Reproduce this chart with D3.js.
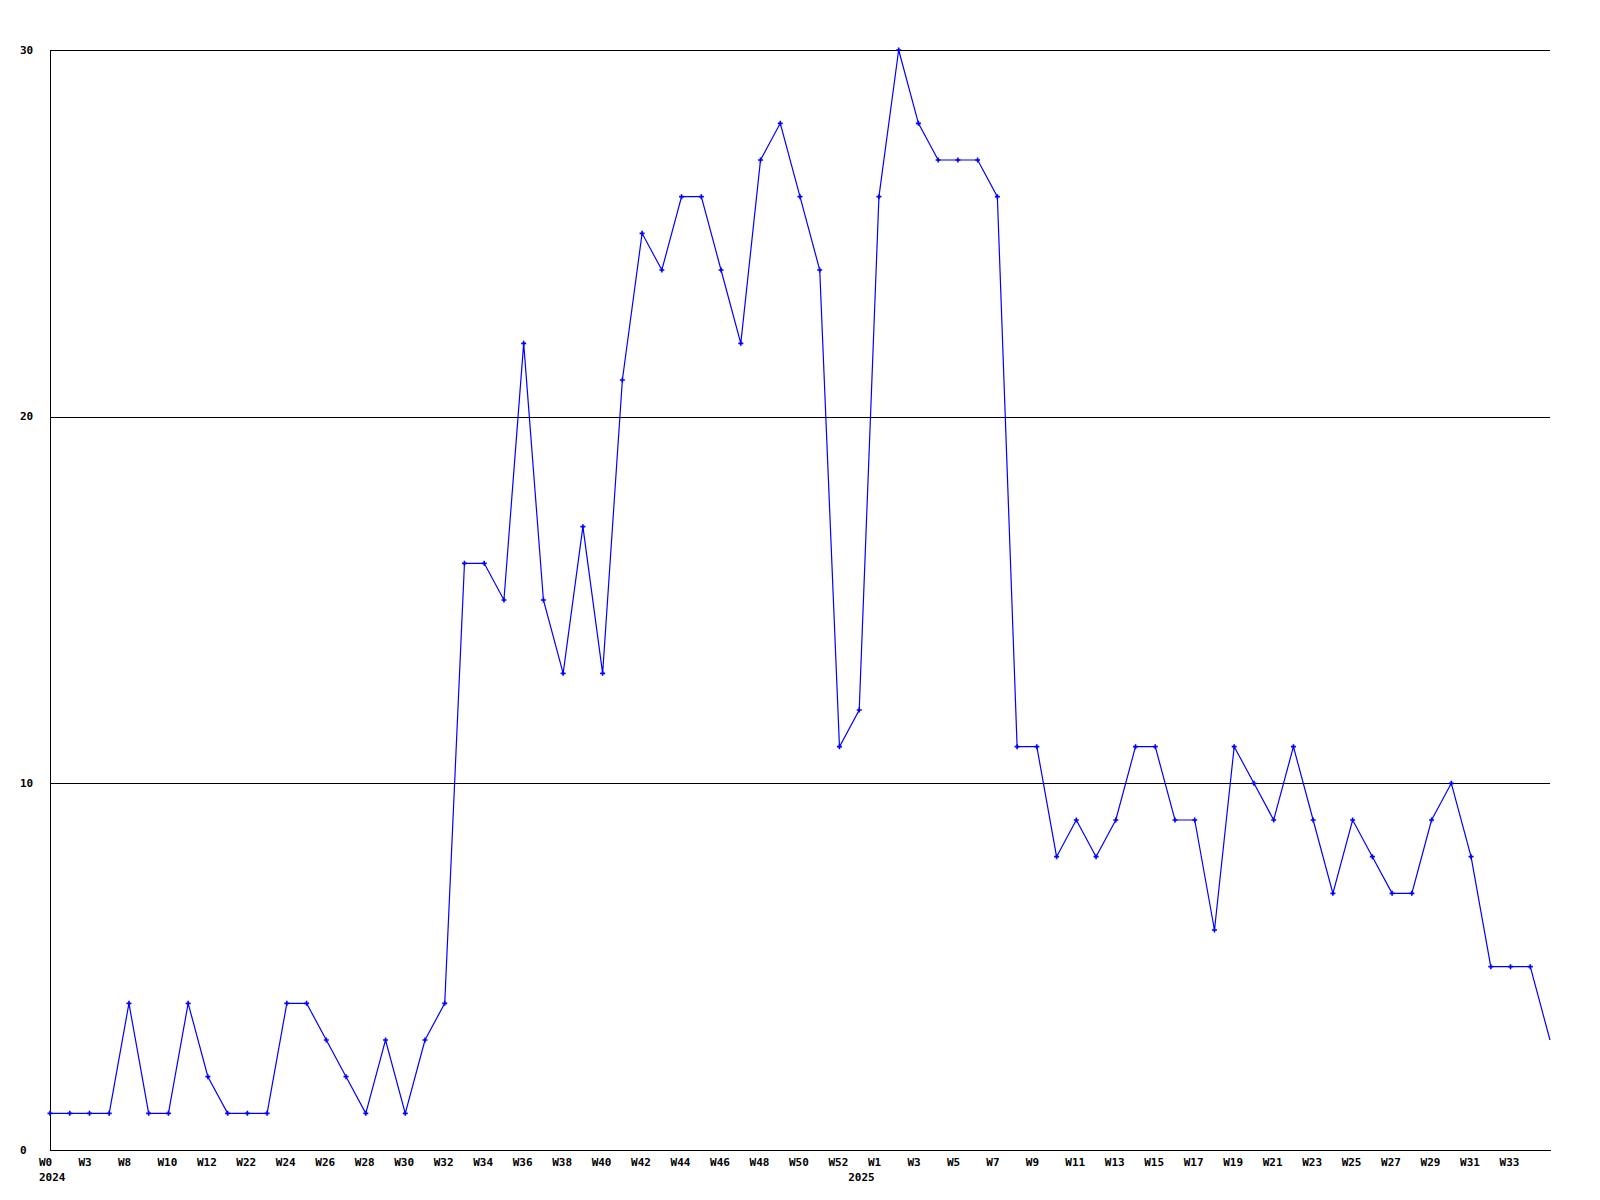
<!DOCTYPE html>
<html>
<head>
<meta charset="utf-8">
<script src="https://cdn.jsdelivr.net/npm/d3@7"></script>
<style>
  html, body { margin: 0; padding: 0; background: #ffffff; }
  svg { display: block; }
  text { font-family: "DejaVu Sans Mono", "Liberation Mono", monospace; font-weight: bold; font-size: 11px; fill: #000; }
</style>
</head>
<body>
<svg id="chart" width="1600" height="1200"></svg>
<script>
// ---- data ----
const years = [
  "2024","2024","2024","2024","2024","2024","2024","2024","2024","2024",
  "2024","2024","2024","2024","2024","2024","2024","2024","2024","2024",
  "2024","2024","2024","2024","2024","2024","2024","2024","2024","2024",
  "2024","2024","2024","2024","2024","2024","2024","2024","2024","2024","2024",
  "2025","2025","2025","2025","2025","2025","2025","2025","2025","2025",
  "2025","2025","2025","2025","2025","2025","2025","2025","2025","2025",
  "2025","2025","2025","2025","2025","2025","2025","2025","2025","2025",
  "2025","2025","2025","2025","2025","2025"
];
const weeks = [
  "W0","W1","W3","W5","W8","W9","W10","W11","W12","W16",
  "W22","W23","W24","W25","W26","W27","W28","W29","W30","W31",
  "W32","W33","W34","W35","W36","W37","W38","W39","W40","W41",
  "W42","W43","W44","W45","W46","W47","W48","W49","W50","W51","W52",
  "W0","W1","W2","W3","W4","W5","W6","W7","W8","W9",
  "W10","W11","W12","W13","W14","W15","W16","W17","W18","W19",
  "W20","W21","W22","W23","W24","W25","W26","W27","W28","W29",
  "W30","W31","W32","W33","W34","W35"
];
const values = [
  1,1,1,1,4,1,1,4,2,1,
  1,1,4,4,3,2,1,3,1,3,
  4,16,16,15,22,15,13,17,13,21,
  25,24,26,26,24,22,27,28,26,24,11,
  12,26,30,28,27,27,27,26,11,11,
  8,9,8,9,11,11,9,9,6,11,
  10,9,11,9,7,9,8,7,7,9,
  10,8,5,5,5,3
];
const yTicks = [0, 10, 20, 30];

// ---- layout ----
const mLeft = 50, mRight = 1550, mTop = 50, mBottom = 1150;
const keys = values.map((v, i) => years[i] + "-" + weeks[i]);

const x = d3.scalePoint().domain(keys).range([mLeft, mRight]);
const y = d3.scaleLinear().domain([0, 30]).range([mBottom, mTop]);

const svg = d3.select("#chart");

// gridlines
svg.append("g").selectAll("line").data(yTicks.filter(t => t > 0)).join("line")
  .attr("x1", mLeft).attr("x2", mRight)
  .attr("y1", d => Math.round(y(d)) + 0.5).attr("y2", d => Math.round(y(d)) + 0.5)
  .attr("stroke", "#000").attr("stroke-width", 1).attr("shape-rendering", "crispEdges");

// axes lines
svg.append("line").attr("x1", mLeft + 0.5).attr("x2", mLeft + 0.5).attr("y1", mTop).attr("y2", mBottom + 0.5)
  .attr("stroke", "#000").attr("shape-rendering", "crispEdges");
svg.append("line").attr("x1", mLeft).attr("x2", mRight + 1).attr("y1", mBottom + 0.5).attr("y2", mBottom + 0.5)
  .attr("stroke", "#000").attr("shape-rendering", "crispEdges");

// y labels
svg.append("g").selectAll("text").data(yTicks).join("text")
  .attr("x", 20).attr("y", d => y(d))
  .attr("dominant-baseline", "central")
  .text(d => d);

// x labels (every other point)
const labelIdx = keys.map((k, i) => i).filter(i => i % 2 === 0 && i < keys.length - 1);
svg.append("g").selectAll("text").data(labelIdx).join("text")
  .attr("x", i => x(keys[i]) - 11).attr("y", 1166)
  .text(i => weeks[i]);

// year labels at first point of each year
const yearIdx = keys.map((k, i) => i).filter(i => i === 0 || years[i] !== years[i - 1]);
svg.append("g").selectAll("text").data(yearIdx).join("text")
  .attr("x", i => x(keys[i]) - 11).attr("y", 1181)
  .text(i => years[i]);

// line
const line = d3.line().x((d, i) => x(keys[i])).y(d => y(d));
svg.append("path").datum(values)
  .attr("d", line)
  .attr("fill", "none").attr("stroke", "#0000ff").attr("stroke-width", 1.2);

// markers (small plus/diamond), omit last point
const pts = values.map((v, i) => i).filter(i => i < values.length - 1);
svg.append("g").selectAll("path").data(pts).join("path")
  .attr("transform", i => `translate(${x(keys[i])},${y(values[i])})`)
  .attr("d", "M-2.5,-0.8H-0.8V-2.5H0.8V-0.8H2.5V0.8H0.8V2.5H-0.8V0.8H-2.5Z")
  .attr("fill", "#0000ff");
</script>
</body>
</html>
